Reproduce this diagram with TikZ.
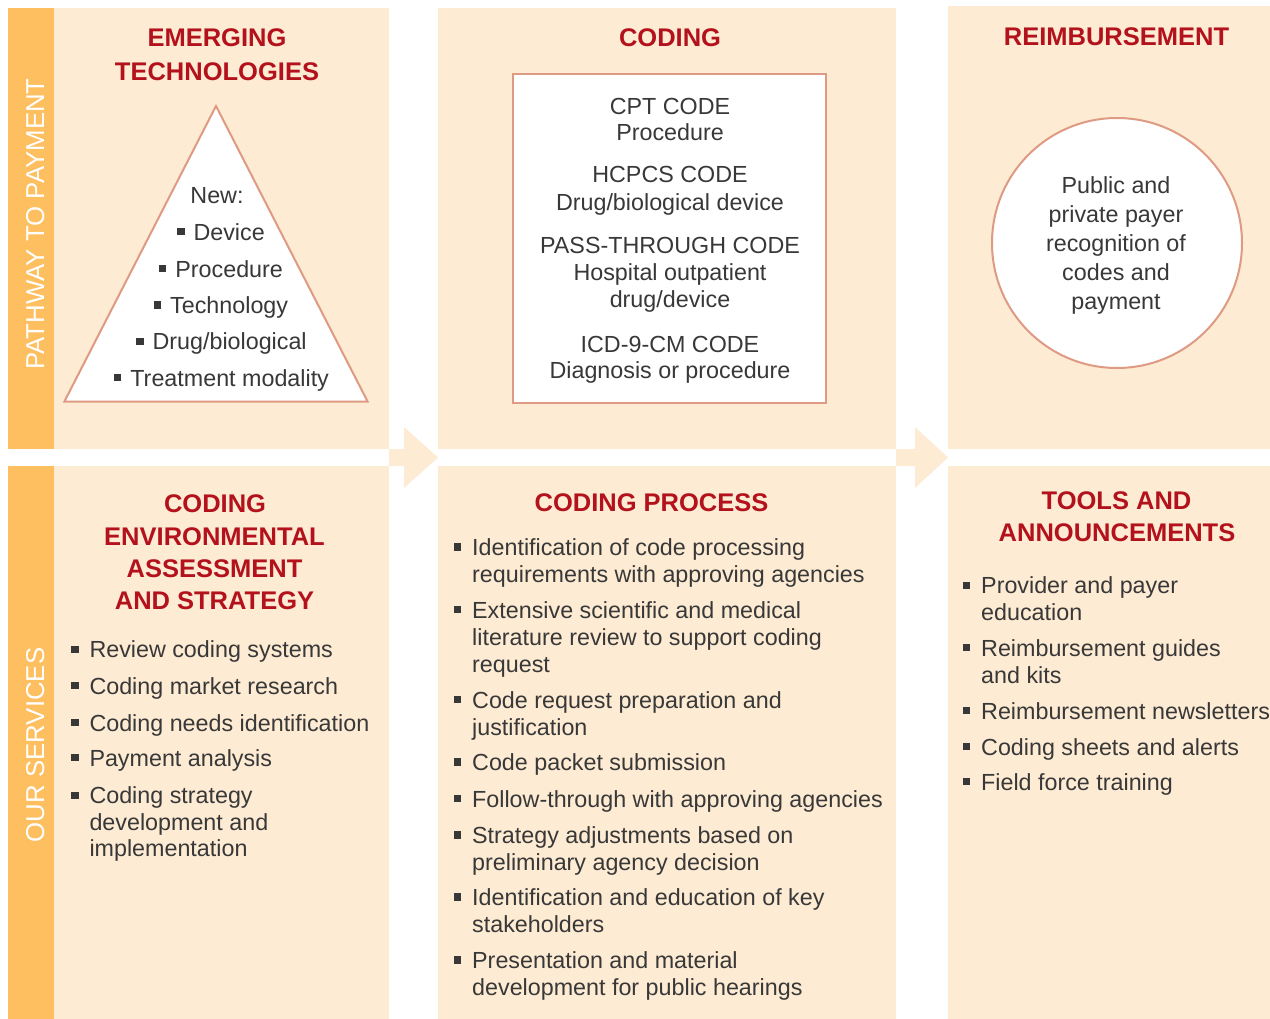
\documentclass[tikz,border=0pt]{standalone}
\usepackage{fontspec}
\setmainfont{Liberation Sans}
\definecolor{peach}{HTML}{FDEBD3}
\definecolor{barc}{HTML}{FDBF60}
\definecolor{ttlred}{HTML}{B3121C}
\definecolor{edgec}{HTML}{DF9A83}
\definecolor{txt}{HTML}{383838}
\newcommand\mybul{\raisebox{5pt}{\rule{7.3pt}{7.3pt}}}
\newcommand\lb{\llap{\mybul\hspace{11pt}}}
\begin{document}
\begin{tikzpicture}[x=1pt,y=-1pt,
  bodytxt/.style={font=\fontsize{23.3}{27}\selectfont, text=txt, inner sep=0pt, yshift=-4.5pt},
  ttltxt/.style={font=\fontsize{25.5}{32}\selectfont\bfseries, text=ttlred, inner sep=0pt, yshift=-5pt},
  vlab/.style={font=\fontsize{25.8}{30}\selectfont, text=white, inner sep=0pt, rotate=90, anchor=base},
  lline/.style={bodytxt, anchor=mid west},
  cline/.style={bodytxt, anchor=mid},
  tline/.style={ttltxt, anchor=mid},
  outl/.style={draw=edgec, line width=2pt, fill=white},
  panel/.style={fill=peach},
  bar/.style={fill=barc}]
\useasboundingbox (0,0) rectangle (1270,1019);
\fill[white] (0,0) rectangle (1270,1019);
% panels
\fill[bar] (8,8) rectangle (54,449);
\fill[panel] (54,8) rectangle (389,449);
\fill[panel] (438,8) rectangle (896,449);
\fill[panel] (948,6) rectangle (1270,449);
\fill[bar] (8,466) rectangle (54,1019);
\fill[panel] (54,466) rectangle (389,1019);
\fill[panel] (438,466) rectangle (896,1019);
\fill[panel] (948,466) rectangle (1270,1019);
% arrows
\fill[panel] (389,449) -- (404,449) -- (404,427) -- (438,457.5) -- (404,488) -- (404,466) -- (389,466) -- cycle;
\fill[panel] (896,449) -- (915,449) -- (915,427) -- (948,457.5) -- (915,488) -- (915,466) -- (896,466) -- cycle;
% side labels
\node[vlab] (pw) at (44,224) {PATHWAY TO PAYMENT};
\node[vlab] (os) at (44,745) {OUR SERVICES};
% shapes
\draw[outl] (216,106) -- (367.7,401.7) -- (64.3,401.7) -- cycle;
\draw[outl] (513,74.5) rectangle (826,403);
\draw[outl] (1117,243) circle[radius=125];
% top titles
\node[tline] (et1) at (217,39.3) {EMERGING};
\node[tline] (et2) at (217,72.4) {TECHNOLOGIES};
\node[tline] (cd) at (670,39.3) {CODING};
\node[tline] (rb) at (1116.5,37.5) {REIMBURSEMENT};
% triangle
\node[cline] (tn) at (217,196.3) {New:};
\node[cline] (t1) at (221,233.3) {\mybul\hspace{9pt}Device};
\node[cline] (t2) at (221,270) {\mybul\hspace{9pt}Procedure};
\node[cline] (t3) at (221,306.5) {\mybul\hspace{9pt}Technology};
\node[cline] (t4) at (221.5,342.7) {\mybul\hspace{9pt}Drug/biological};
\node[cline] (t5) at (221.5,379) {\mybul\hspace{9pt}Treatment modality};
% coding box
\node[cline] (b1) at (670,107.3) {CPT CODE};
\node[cline] (b2) at (670,133.3) {Procedure};
\node[cline] (b3) at (670,175.7) {HCPCS CODE};
\node[cline] (b4) at (670,203) {Drug/biological device};
\node[cline] (b5) at (670,246.7) {PASS-THROUGH CODE};
\node[cline] (b6) at (670,273.3) {Hospital outpatient};
\node[cline] (b7) at (670,300.7) {drug/device};
\node[cline] (b8) at (670,345) {ICD-9-CM CODE};
\node[cline] (b9) at (670,371.3) {Diagnosis or procedure};
% circle
\node[cline] (c1) at (1116,186.7) {Public and};
\node[cline] (c2) at (1116,215) {private payer};
\node[cline] (c3) at (1116,244) {recognition of};
\node[cline] (c4) at (1116,273.3) {codes and};
\node[cline] (c5) at (1116,302.3) {payment};
% bottom panel 1
\node[tline] (ce1) at (215,504.5) {CODING};
\node[tline] (ce2) at (214.5,537.5) {ENVIRONMENTAL};
\node[tline] (ce3) at (214.5,569.5) {ASSESSMENT};
\node[tline] (ce4) at (214.5,601.5) {AND STRATEGY};
\node[lline] (s1) at (89.3,650.7) {\lb Review coding systems};
\node[lline] (s2) at (89.3,687.3) {\lb Coding market research};
\node[lline] (s3) at (89.3,724) {\lb Coding needs identification};
\node[lline] (s4) at (89.3,759) {\lb Payment analysis};
\node[lline] (s5) at (89.3,796.7) {\lb Coding strategy};
\node[lline] (s6) at (89.3,823.3) {development and};
\node[lline] (s7) at (89.3,849) {implementation};
% bottom panel 2
\node[tline] (cp) at (651.5,503.5) {CODING PROCESS};
\node[lline] (p1) at (472,548.5) {\lb Identification of code processing};
\node[lline] (p2) at (472,575) {requirements with approving agencies};
\node[lline] (p3) at (472,611) {\lb Extensive scientific and medical};
\node[lline] (p4) at (472,638) {literature review to support coding};
\node[lline] (p5) at (472,665) {request};
\node[lline] (p6) at (472,701) {\lb Code request preparation and};
\node[lline] (p7) at (472,728) {justification};
\node[lline] (p8) at (472,763.5) {\lb Code packet submission};
\node[lline] (p9) at (472,800) {\lb Follow-through with approving agencies};
\node[lline] (p10) at (472,836.5) {\lb Strategy adjustments based on};
\node[lline] (p11) at (472,863) {preliminary agency decision};
\node[lline] (p12) at (472,898.5) {\lb Identification and education of key};
\node[lline] (p13) at (472,925.5) {stakeholders};
\node[lline] (p14) at (472,961.5) {\lb Presentation and material};
\node[lline] (p15) at (472,988) {development for public hearings};
% bottom panel 3
\node[tline] (ta1) at (1116.5,502) {TOOLS AND};
\node[tline] (ta2) at (1117,534) {ANNOUNCEMENTS};
\node[lline] (r1) at (981,586.7) {\lb Provider and payer};
\node[lline] (r2) at (981,613) {education};
\node[lline] (r3) at (981,649) {\lb Reimbursement guides};
\node[lline] (r4) at (981,676.7) {and kits};
\node[lline] (r5) at (981,712.3) {\lb Reimbursement newsletters};
\node[lline] (r6) at (981,748.3) {\lb Coding sheets and alerts};
\node[lline] (r7) at (981,783.3) {\lb Field force training};
\end{tikzpicture}
\end{document}
